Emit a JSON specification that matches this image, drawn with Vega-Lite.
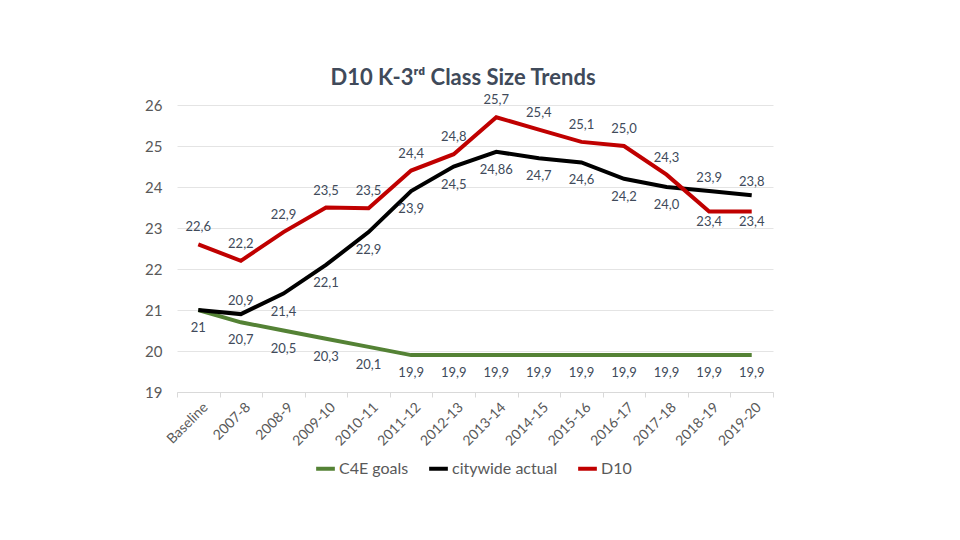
{
  "$schema": "https://vega.github.io/schema/vega-lite/v6.json",
  "width": 596,
  "height": 287,
  "autosize": {"type": "none"},
  "padding": {"left": 177, "top": 105, "right": 187, "bottom": 148},
  "background": "white",
  "title": {
    "text": "D10 K-3ʳᵈ Class Size Trends",
    "anchor": "middle",
    "frame": "group",
    "dx": -12,
    "offset": 4,
    "font": "Lato",
    "fontSize": 22,
    "fontWeight": "bold",
    "color": "#404a5a"
  },
  "config": {
    "view": {"stroke": null},
    "font": "Lato"
  },
  "data": {
    "values": [
      {"year": "Baseline", "series": "C4E goals", "value": 21, "label": "21"},
      {"year": "2007-8", "series": "C4E goals", "value": 20.7, "label": "20,7"},
      {"year": "2008-9", "series": "C4E goals", "value": 20.5, "label": "20,5"},
      {"year": "2009-10", "series": "C4E goals", "value": 20.3, "label": "20,3"},
      {"year": "2010-11", "series": "C4E goals", "value": 20.1, "label": "20,1"},
      {"year": "2011-12", "series": "C4E goals", "value": 19.9, "label": "19,9"},
      {"year": "2012-13", "series": "C4E goals", "value": 19.9, "label": "19,9"},
      {"year": "2013-14", "series": "C4E goals", "value": 19.9, "label": "19,9"},
      {"year": "2014-15", "series": "C4E goals", "value": 19.9, "label": "19,9"},
      {"year": "2015-16", "series": "C4E goals", "value": 19.9, "label": "19,9"},
      {"year": "2016-17", "series": "C4E goals", "value": 19.9, "label": "19,9"},
      {"year": "2017-18", "series": "C4E goals", "value": 19.9, "label": "19,9"},
      {"year": "2018-19", "series": "C4E goals", "value": 19.9, "label": "19,9"},
      {"year": "2019-20", "series": "C4E goals", "value": 19.9, "label": "19,9"},
      {"year": "Baseline", "series": "citywide actual", "value": 21, "label": ""},
      {"year": "2007-8", "series": "citywide actual", "value": 20.9, "label": "20,9"},
      {"year": "2008-9", "series": "citywide actual", "value": 21.4, "label": "21,4"},
      {"year": "2009-10", "series": "citywide actual", "value": 22.1, "label": "22,1"},
      {"year": "2010-11", "series": "citywide actual", "value": 22.9, "label": "22,9"},
      {"year": "2011-12", "series": "citywide actual", "value": 23.9, "label": "23,9"},
      {"year": "2012-13", "series": "citywide actual", "value": 24.5, "label": "24,5"},
      {"year": "2013-14", "series": "citywide actual", "value": 24.86, "label": "24,86"},
      {"year": "2014-15", "series": "citywide actual", "value": 24.7, "label": "24,7"},
      {"year": "2015-16", "series": "citywide actual", "value": 24.6, "label": "24,6"},
      {"year": "2016-17", "series": "citywide actual", "value": 24.2, "label": "24,2"},
      {"year": "2017-18", "series": "citywide actual", "value": 24.0, "label": "24,0"},
      {"year": "2018-19", "series": "citywide actual", "value": 23.9, "label": "23,9"},
      {"year": "2019-20", "series": "citywide actual", "value": 23.8, "label": "23,8"},
      {"year": "Baseline", "series": "D10", "value": 22.6, "label": "22,6"},
      {"year": "2007-8", "series": "D10", "value": 22.2, "label": "22,2"},
      {"year": "2008-9", "series": "D10", "value": 22.9, "label": "22,9"},
      {"year": "2009-10", "series": "D10", "value": 23.5, "label": "23,5"},
      {"year": "2010-11", "series": "D10", "value": 23.48, "label": "23,5"},
      {"year": "2011-12", "series": "D10", "value": 24.4, "label": "24,4"},
      {"year": "2012-13", "series": "D10", "value": 24.8, "label": "24,8"},
      {"year": "2013-14", "series": "D10", "value": 25.7, "label": "25,7"},
      {"year": "2014-15", "series": "D10", "value": 25.4, "label": "25,4"},
      {"year": "2015-16", "series": "D10", "value": 25.1, "label": "25,1"},
      {"year": "2016-17", "series": "D10", "value": 25.0, "label": "25,0"},
      {"year": "2017-18", "series": "D10", "value": 24.3, "label": "24,3"},
      {"year": "2018-19", "series": "D10", "value": 23.4, "label": "23,4"},
      {"year": "2019-20", "series": "D10", "value": 23.4, "label": "23,4"}
    ]
  },
  "encoding": {
    "x": {
      "field": "year",
      "type": "nominal",
      "bandPosition": 0.5,
      "sort": ["Baseline","2007-8","2008-9","2009-10","2010-11","2011-12","2012-13","2013-14","2014-15","2015-16","2016-17","2017-18","2018-19","2019-20"],
      "scale": {"type": "band", "paddingInner": 0, "paddingOuter": 0},
      "axis": {
        "title": null,
        "labelAngle": -45,
        "labelAlign": "right",
        "labelBaseline": "middle",
        "labelFontSize": 14,
        "labelColor": "#595959",
        "labelPadding": 8,
        "labelOffset": 7,
        "tickBand": "extent",
        "ticks": true,
        "tickSize": 5,
        "tickColor": "#d9d9d9",
        "domainColor": "#d9d9d9",
        "grid": false
      }
    },
    "y": {
      "field": "value",
      "type": "quantitative",
      "scale": {"domain": [19, 26], "nice": false, "zero": false},
      "axis": {
        "title": null,
        "values": [19,20,21,22,23,24,25,26],
        "format": "d",
        "labelFontSize": 15,
        "labelColor": "#595959",
        "labelPadding": 15,
        "ticks": false,
        "domain": false,
        "grid": true,
        "gridColor": "#e4e4e4"
      }
    }
  },
  "layer": [
    {
      "mark": {"type": "line", "strokeWidth": 4},
      "encoding": {
        "color": {
          "field": "series",
          "type": "nominal",
          "scale": {"domain": ["C4E goals", "citywide actual", "D10"], "range": ["#548235", "#000000", "#c00000"]},
          "legend": {
            "title": null,
            "orient": "none",
            "direction": "horizontal",
            "legendX": 137,
            "legendY": 352,
            "symbolType": "stroke",
            "symbolStrokeWidth": 4,
            "symbolSize": 350,
            "labelFontSize": 16,
            "labelColor": "#595959",
            "columnPadding": 12,
            "labelOffset": 2
          }
        },
        "order": {"field": "series"}
      }
    },
    {
      "transform": [{"filter": "datum.series === 'C4E goals'"}],
      "mark": {"type": "text", "dy": 18, "baseline": "middle", "fontSize": 13, "color": "#404a5a"},
      "encoding": {"text": {"field": "label"}}
    },
    {
      "transform": [{"filter": "datum.series === 'citywide actual' && indexof(['2007-8','2018-19','2019-20'], datum.year) < 0"}],
      "mark": {"type": "text", "dy": 18, "baseline": "middle", "fontSize": 13, "color": "#404a5a"},
      "encoding": {"text": {"field": "label"}}
    },
    {
      "transform": [{"filter": "datum.series === 'citywide actual' && indexof(['2007-8','2018-19','2019-20'], datum.year) >= 0"}],
      "mark": {"type": "text", "dy": -13, "baseline": "middle", "fontSize": 13, "color": "#404a5a"},
      "encoding": {"text": {"field": "label"}}
    },
    {
      "transform": [{"filter": "datum.series === 'D10' && indexof(['2018-19','2019-20'], datum.year) < 0"}],
      "mark": {"type": "text", "dy": -17, "baseline": "middle", "fontSize": 13, "color": "#404a5a"},
      "encoding": {"text": {"field": "label"}}
    },
    {
      "transform": [{"filter": "datum.series === 'D10' && indexof(['2018-19','2019-20'], datum.year) >= 0"}],
      "mark": {"type": "text", "dy": 10, "baseline": "middle", "fontSize": 13, "color": "#404a5a"},
      "encoding": {"text": {"field": "label"}}
    }
  ]
}
